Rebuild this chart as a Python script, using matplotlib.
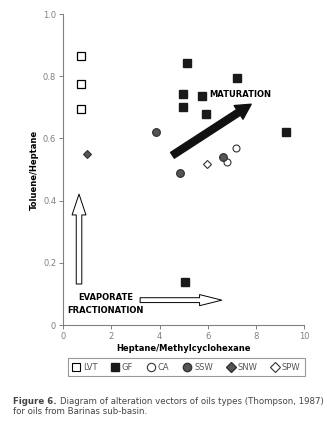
import matplotlib
matplotlib.use('Agg')
import matplotlib.pyplot as plt
from matplotlib.patches import FancyArrowPatch
from matplotlib.lines import Line2D

plt.rcParams['font.family'] = ['DejaVu Sans']

# data
lvt_x = [0.73, 0.73, 0.73]
lvt_y = [0.866, 0.776, 0.696]
gf_x = [5.12, 4.97, 4.98, 5.75, 5.93, 7.22, 9.24, 5.06]
gf_y = [0.842, 0.742, 0.702, 0.737, 0.679, 0.796, 0.622, 0.137]
ca_x = [7.18, 6.79]
ca_y = [0.570, 0.523]
ssw_x = [3.85, 4.85, 6.63]
ssw_y = [0.620, 0.488, 0.541]
snw_x = [1.01]
snw_y = [0.551]
spw_x = [5.95]
spw_y = [0.518]

xticks = [0, 2, 4, 6, 8, 10]
yticks = [0, 0.2, 0.4, 0.6, 0.8, 1.0]
ytick_labels = ['0', '0.2', '0.4', '0.6', '0.8', '1.0']

gray = '#808080'

fig = plt.figure(figsize=(3.27, 4.41), dpi=100)
ax = fig.add_axes([0.193, 0.263, 0.737, 0.705])

ax.plot(lvt_x, lvt_y, 's', ms=5.5, mfc='white', mec='black', mew=0.9, ls='none')
ax.plot(gf_x, gf_y, 's', ms=6, mfc='#1a1a1a', mec='#1a1a1a', ls='none')
ax.plot(ca_x, ca_y, 'o', ms=5, mfc='white', mec='#333333', mew=0.8, ls='none')
ax.plot(ssw_x, ssw_y, 'o', ms=5.5, mfc='#555555', mec='#333333', mew=0.9, ls='none')
ax.plot(snw_x, snw_y, 'D', ms=4.5, mfc='#555555', mec='#333333', mew=0.8, ls='none')
ax.plot(spw_x, spw_y, 'D', ms=4.5, mfc='white', mec='#333333', mew=0.8, ls='none')

# maturation arrow
ax.annotate('', xy=(7.9, 0.715), xytext=(4.44, 0.541),
            arrowprops=dict(arrowstyle='simple,head_width=1.3,head_length=1.2,tail_width=0.55',
                            fc='#111111', ec='#111111', mutation_scale=9))
ax.text(7.35, 0.743, 'MATURATION', fontsize=6, fontweight='bold', ha='center', va='center')

# evaporate fractionation hollow arrows
varr = FancyArrowPatch((0.66, 0.123), (0.66, 0.43),
                       arrowstyle='simple,head_width=2.0,head_length=3.0,tail_width=0.8',
                       mutation_scale=5, fc='white', ec='black', lw=0.7)
ax.add_patch(varr)
harr = FancyArrowPatch((3.08, 0.08), (6.7, 0.08),
                       arrowstyle='simple,head_width=1.6,head_length=3.2,tail_width=0.7',
                       mutation_scale=5, fc='white', ec='black', lw=0.7)
ax.add_patch(harr)
ax.text(1.75, 0.088, 'EVAPORATE', fontsize=6, fontweight='bold', ha='center', va='center')
ax.text(1.75, 0.048, 'FRACTIONATION', fontsize=6, fontweight='bold', ha='center', va='center')

ax.set_xlim(0, 10)
ax.set_ylim(0, 1.0)
ax.set_xticks(xticks)
ax.set_yticks(yticks)
ax.set_yticklabels(ytick_labels)
for s in ['top', 'right']:
    ax.spines[s].set_visible(False)
for s in ['left', 'bottom']:
    ax.spines[s].set_color(gray)
    ax.spines[s].set_linewidth(0.8)
ax.tick_params(colors=gray, labelsize=6, length=3, width=0.7, pad=2)
ax.set_xlabel('Heptane/Methylcyclohexane', fontsize=6, fontweight='bold', labelpad=2)
ax.set_ylabel('Toluene/Heptane', fontsize=6, fontweight='bold', labelpad=3)

handles = [
    Line2D([], [], marker='s', ls='none', ms=6, mfc='white', mec='black', mew=0.8),
    Line2D([], [], marker='s', ls='none', ms=6, mfc='#1a1a1a', mec='#1a1a1a'),
    Line2D([], [], marker='o', ls='none', ms=6, mfc='white', mec='#333333', mew=0.8),
    Line2D([], [], marker='o', ls='none', ms=6, mfc='#555555', mec='#333333'),
    Line2D([], [], marker='D', ls='none', ms=5, mfc='#555555', mec='#333333'),
    Line2D([], [], marker='D', ls='none', ms=5, mfc='white', mec='#333333', mew=0.8),
]
labels = ['LVT', 'GF', 'CA', 'SSW', 'SNW', 'SPW']
leg = fig.legend(handles, labels, loc='center', bbox_to_anchor=(0.57, 0.167), ncol=6,
                 fontsize=6, frameon=True, fancybox=False, handlelength=0.9,
                 handletextpad=0.35, columnspacing=1.7, borderpad=0.55)
leg.get_frame().set_edgecolor(gray)
leg.get_frame().set_linewidth(0.8)
for t in leg.get_texts():
    t.set_color('#555555')

fig.text(0.04, 0.089, 'Figure 6.', fontsize=6.2, fontweight='bold', color='#444444', va='center')
fig.text(0.04 + 0.142, 0.089, 'Diagram of alteration vectors of oils types (Thompson, 1987)',
         fontsize=6.2, color='#444444', va='center')
fig.text(0.04, 0.068, 'for oils from Barinas sub-basin.', fontsize=6.2, color='#444444', va='center')

fig.savefig('out.png', dpi=100)
